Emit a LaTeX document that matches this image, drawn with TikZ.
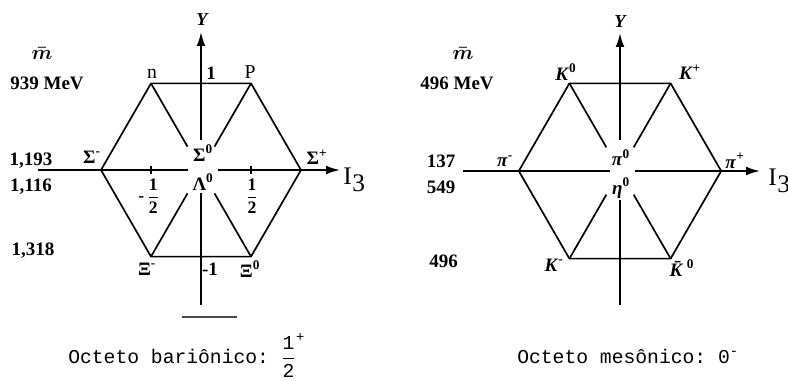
\documentclass[tikz,border=0pt]{standalone}
\usepackage{amsmath}
\usepackage{fontspec}
\setmainfont{Liberation Serif}
\setmonofont{Liberation Mono}
\usepackage{tikz}
\usetikzlibrary{arrows.meta,calc}
\tikzset{
  axis/.style={draw=black,line width=1.3pt},
  axisarrow/.style={axis,-{Latex[length=3.5mm,width=2.2mm]}},
  edge/.style={draw=black,line width=1.2pt,line join=round},
  spoke/.style={draw=black,line width=1.2pt},
  particle/.style={font=\fontsize{13.5}{15}\selectfont\bfseries,inner sep=1pt},
  plain/.style={font=\fontsize{14}{16}\selectfont,inner sep=1pt},
  half/.style={font=\fontsize{12.5}{14}\selectfont\bfseries,inner sep=0pt},
  massval/.style={font=\fontsize{13.5}{16}\selectfont\bfseries,inner sep=1pt},
  mbar/.style={font=\fontsize{14}{16}\selectfont\boldmath,inner sep=0pt},
  axlabel/.style={font=\fontsize{13}{15}\selectfont\bfseries\itshape,inner sep=1pt},
  isolabel/.style={font=\fontsize{18}{20}\selectfont,inner sep=0pt,anchor=west},
  captxt/.style={font=\fontsize{14}{16}\selectfont\ttfamily,inner sep=0pt,anchor=base west}
}
\newcommand{\isothree}{I\kern0.5pt\raisebox{-0.55ex}{3}}

\begin{document}
\begin{tikzpicture}
\useasboundingbox (0,0) rectangle (19.7,9.5);

% baryon octet
\coordinate (bc) at (5.025,5.25);
\coordinate (bn) at ($(bc)+(120:2.5)$);
\coordinate (bp) at ($(bc)+(60:2.5)$);
\coordinate (bsp) at ($(bc)+(0:2.5)$);
\coordinate (bxz) at ($(bc)+(300:2.5)$);
\coordinate (bxm) at ($(bc)+(240:2.5)$);
\coordinate (bsm) at ($(bc)+(180:2.5)$);

\draw[edge] (bn)--(bp)--(bsp)--(bxz)--(bxm)--(bsm)--cycle;
\draw[spoke] (bn)--($(bn)!0.73!(bc)$);
\draw[spoke] (bp)--($(bp)!0.73!(bc)$);
\draw[spoke] (bxm)--($(bxm)!0.73!(bc)$);
\draw[spoke] (bxz)--($(bxz)!0.73!(bc)$);

\coordinate (bytop) at (5.025,8.7);
\coordinate (byup) at (5.025,6.0);
\coordinate (bylo) at (5.025,4.675);
\coordinate (bybot) at (5.025,1.875);
\draw[axisarrow] (byup)--(bytop);
\draw[axis] (bylo)--(bybot);

\coordinate (bxl) at (0.95,5.25);
\coordinate (bxg) at (4.7,5.25);
\coordinate (bxh) at (5.45,5.25);
\coordinate (bxr) at (8.5,5.25);
\draw[axis] (bxl)--(bxg);
\draw[axisarrow] (bxh)--(bxr);
\draw[axis] ($(bc)+(-1.25,-0.09)$)--++(0,0.18);
\draw[axis] ($(bc)+(1.25,-0.09)$)--++(0,0.18);

\node[axlabel] (by) at (5.05,9.0) {Y};
\node[isolabel] (bi) at (8.575,5.0) {\isothree};

\node[plain] (ln) at (3.8,7.65) {n};
\node[plain] (lp) at (6.25,7.7) {P};
\node[particle] (lone) at (5.275,7.675) {1};
\node[particle] (lsm) at (2.3,5.575) {Σ\textsuperscript{-}};
\node[particle] (lsz) at (5.075,5.675) {Σ\textsuperscript{0}};
\node[particle] (lsp) at (7.925,5.575) {Σ\textsuperscript{+}};
\node[particle] (llz) at (5.075,4.95) {Λ\textsuperscript{0}};
\node[half] (lmh) at (3.72,4.6) {-\,$\displaystyle\frac{\textbf{1}}{\textbf{2}}$};
\node[half] (lph) at (6.3,4.6) {$\displaystyle\frac{\textbf{1}}{\textbf{2}}$};
\node[particle] (lxm) at (3.675,2.775) {Ξ\textsuperscript{-}};
\node[particle] (lmone) at (5.25,2.775) {-1};
\node[particle] (lxz) at (6.25,2.775) {Ξ\textsuperscript{0}};

\node[mbar] (bmbar) at (1.05,8.15) {$\bar{m}$};
\node[massval] (bm1) at (1.175,7.425) {939 MeV};
\node[massval] (bm2) at (0.775,5.475) {1,193};
\node[massval] (bm3) at (0.775,4.825) {1,116};
\node[massval] (bm4) at (0.825,3.225) {1,318};

\coordinate (smudge1) at (4.55,1.575);
\coordinate (smudge2) at (5.925,1.575);
\draw[line width=0.8pt,black!70] (smudge1)--(smudge2);

\node[captxt] (bcap) at (1.7,0.42) {Octeto bariônico: $\displaystyle\frac{\text{1}}{\text{2}}^{\text{+}}$};

% meson octet
\coordinate (mc) at (15.5,5.225);
\coordinate (mkz) at ($(mc)+(120:2.53)$);
\coordinate (mkp) at ($(mc)+(60:2.53)$);
\coordinate (mpp) at ($(mc)+(0:2.53)$);
\coordinate (mkb) at ($(mc)+(300:2.53)$);
\coordinate (mkm) at ($(mc)+(240:2.53)$);
\coordinate (mpm) at ($(mc)+(180:2.53)$);

\draw[edge] (mkz)--(mkp)--(mpp)--(mkb)--(mkm)--(mpm)--cycle;
\draw[spoke] (mkz)--($(mkz)!0.73!(mc)$);
\draw[spoke] (mkp)--($(mkp)!0.73!(mc)$);
\draw[spoke] (mkm)--($(mkm)!0.73!(mc)$);
\draw[spoke] (mkb)--($(mkb)!0.73!(mc)$);

\coordinate (mytop) at (15.5,8.675);
\coordinate (myup) at (15.5,6.0);
\coordinate (mylo) at (15.5,4.5);
\coordinate (mybot) at (15.5,1.875);
\draw[axisarrow] (myup)--(mytop);
\draw[axis] (mylo)--(mybot);

\coordinate (mxl) at (11.575,5.225);
\coordinate (mxg) at (15.25,5.225);
\coordinate (mxh) at (15.875,5.225);
\coordinate (mxr) at (19.0,5.225);
\draw[axis] (mxl)--(mxg);
\draw[axisarrow] (mxh)--(mxr);

\node[axlabel] (my) at (15.5,8.95) {Y};
\node[isolabel] (mi) at (19.2,4.975) {\isothree};

\node[particle] (lkz) at (14.15,7.7) {\textit{K}\textsuperscript{0}};
\node[particle] (lkp) at (17.25,7.7) {\textit{K}\textsuperscript{+}};
\node[particle] (lpm) at (12.625,5.475) {\textit{π}\textsuperscript{-}};
\node[particle] (lpz) at (15.525,5.55) {\textit{π}\textsuperscript{0}};
\node[particle] (lpp) at (18.375,5.475) {\textit{π}\textsuperscript{+}};
\node[particle] (lez) at (15.525,4.8) {\textit{η}\textsuperscript{0}};
\node[particle] (lkm) at (13.85,2.875) {\textit{K}\textsuperscript{-}};
\node[particle] (lkb) at (17.05,2.8) {\textit{\=K}\textsuperscript{0}};

\node[mbar] (mmbar) at (11.575,8.15) {$\bar{m}$};
\node[massval] (mm1) at (11.425,7.425) {496 MeV};
\node[massval] (mm2) at (11.03,5.475) {137};
\node[massval] (mm3) at (11.03,4.825) {549};
\node[massval] (mm4) at (11.09,2.975) {496};

\node[captxt] (mcap) at (12.925,0.42) {Octeto mesônico: 0\textsuperscript{-}};
\end{tikzpicture}
\end{document}
